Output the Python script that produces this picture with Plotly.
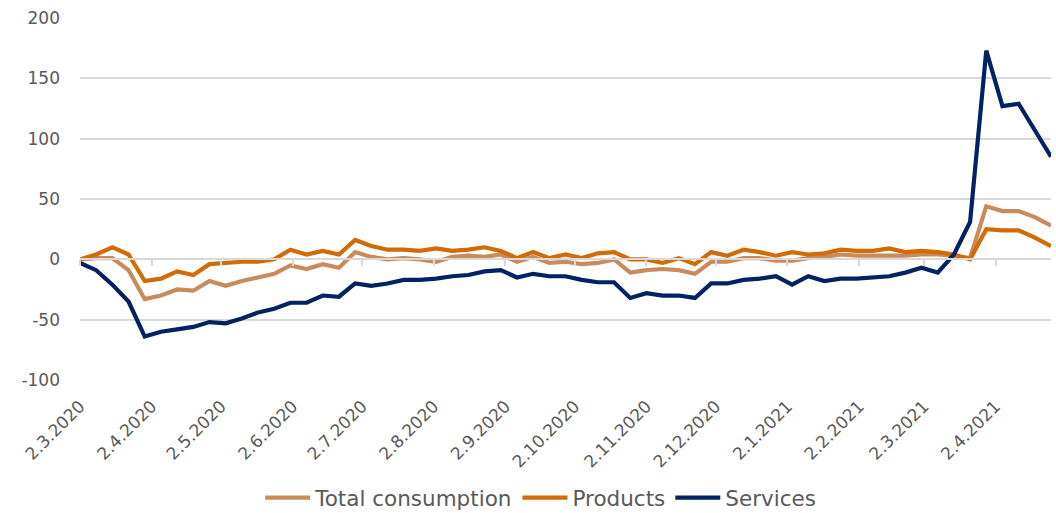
import pandas as pd
import plotly.graph_objects as go

# Weekly index values, first week starting 2.3.2020
weeks = pd.date_range("2020-03-02", periods=61, freq="7D")

total_consumption = [
    0, 1, 1, -9, -33, -30, -25, -26, -18, -22,
    -18, -15, -12, -5, -8, -4, -7, 6, 2, 0,
    1, 0, -2, 2, 3, 2, 4, -2, 2, -3,
    -2, -4, -3, 0, -11, -9, -8, -9, -12, -2,
    -2, 1, 1, -1, -1, 1, 2, 4, 3, 3,
    3, 3, 4, 4, 3, 1, 44, 40, 40, 35,
    28,
]
products = [
    0, 4, 10, 4, -18, -16, -10, -13, -4, -3,
    -2, -2, 0, 8, 4, 7, 4, 16, 11, 8,
    8, 7, 9, 7, 8, 10, 7, 1, 6, 1,
    4, 1, 5, 6, 0, 0, -3, 1, -4, 6,
    3, 8, 6, 3, 6, 4, 5, 8, 7, 7,
    9, 6, 7, 6, 4, 0, 25, 24, 24, 18,
    11,
]
services = [
    -3, -9, -21, -35, -64, -60, -58, -56, -52, -53,
    -49, -44, -41, -36, -36, -30, -31, -20, -22, -20,
    -17, -17, -16, -14, -13, -10, -9, -15, -12, -14,
    -14, -17, -19, -19, -32, -28, -30, -30, -32, -20,
    -20, -17, -16, -14, -21, -14, -18, -16, -16, -15,
    -14, -11, -7, -11, 4, 31, 173, 127, 129, 107,
    85,
]

# Monthly tick positions (2nd of each month) and their labels (d.m.yyyy)
tick_dates = pd.date_range("2020-03-01", "2021-04-01", freq="MS") + pd.Timedelta(days=1)
tick_labels = [f"{d.day}.{d.month}.{d.year}" for d in tick_dates]

# Value axis ticks, written with a plain hyphen for negatives
y_ticks = [-100, -50, 0, 50, 100, 150, 200]
y_labels = [str(v) for v in y_ticks]

series = [
    ("Total consumption", total_consumption, "#C98B5B"),
    ("Products", products, "#D26A05"),
    ("Services", services, "#032263"),
]

TEXT = "#595959"
GRID = "#D9D9D9"
FONT = "DejaVu Sans"

fig = go.Figure()
for name, vals, color in series:
    fig.add_trace(go.Scatter(
        x=weeks, y=vals, name=name, mode="lines",
        line=dict(color=color, width=4.2),
    ))

# Secondary x axis along y=0 carrying the month tick marks
fig.add_trace(go.Scatter(
    x=weeks, y=services, xaxis="x2", mode="lines",
    line=dict(width=0), opacity=0, showlegend=False, hoverinfo="skip",
))

fig.update_layout(
    width=1056, height=513,
    margin=dict(l=80, r=5, t=18, b=133, autoexpand=False),
    paper_bgcolor="white", plot_bgcolor="white",
    font=dict(family=FONT, color=TEXT, size=17),
    showlegend=True,
    legend=dict(
        orientation="h",
        xref="container", x=0.512, xanchor="center",
        yref="container", y=0.03, yanchor="middle",
        font=dict(size=21.5, color=TEXT, family=FONT),
        itemwidth=45, traceorder="normal",
    ),
    xaxis=dict(
        type="date",
        range=[weeks[0], weeks[-1]],
        tickmode="array", tickvals=tick_dates, ticktext=tick_labels,
        tickangle=-45, ticks="", showgrid=False, zeroline=False,
        showline=False, ticklabelstandoff=12, automargin=False,
        tickfont=dict(size=17, color=TEXT, family=FONT),
    ),
    xaxis2=dict(
        type="date", overlaying="x", matches="x", anchor="free",
        position=1 / 3, automargin=False,
        tickmode="array", tickvals=tick_dates,
        ticks="outside", ticklen=6, tickcolor=GRID, tickwidth=1.5,
        showticklabels=False, showgrid=False, zeroline=False,
        showline=True, linecolor=GRID, linewidth=1.5,
    ),
    yaxis=dict(
        range=[-100, 200],
        tickmode="array", tickvals=y_ticks, ticktext=y_labels,
        showgrid=True, gridcolor=GRID, gridwidth=1.5,
        zeroline=False, showline=False, ticks="",
        ticklabelstandoff=19, automargin=False,
        tickfont=dict(size=17, color=TEXT, family=FONT),
    ),
)

fig.write_html("out.html")
